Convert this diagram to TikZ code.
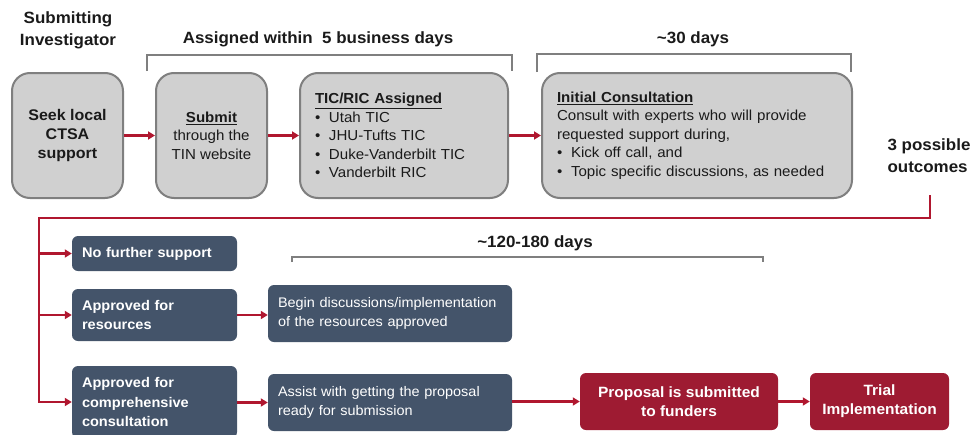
\documentclass[tikz,border=0pt]{standalone}
\usepackage{fontspec}
\setmainfont{Liberation Sans}[FakeStretch=1.04]
\usetikzlibrary{arrows.meta}
\definecolor{boxgray}{HTML}{D0D0D0}
\definecolor{bordergray}{HTML}{7F7F7F}
\definecolor{navy}{HTML}{44546A}
\definecolor{crimson}{HTML}{9E1B32}
\definecolor{arrowred}{HTML}{B0172F}
\definecolor{txt}{HTML}{1A1A1A}
\newcommand{\bul}{\makebox[14pt][l]{\textbullet}}
\begin{document}
\begin{tikzpicture}[x=1pt,y=-1pt,
  graybox/.style={draw=bordergray, line width=2pt, fill=boxgray, rounded corners=18pt, inner sep=0pt, text=txt},
  navybox/.style={fill=navy, rounded corners=6pt, text=white, inner ysep=0pt, inner xsep=10pt, align=left},
  redbox/.style={fill=crimson, rounded corners=6pt, text=white, inner sep=0pt, align=center, font=\bfseries\fontsize{14.9}{19}\selectfont},
  link/.style={draw=arrowred, line width=2.5pt, -{Triangle[length=7pt,width=8pt]}},
  bracket/.style={draw=bordergray, line width=2pt},
  heading/.style={font=\bfseries\fontsize{16.3}{22}\selectfont, text=txt, align=center}]
\useasboundingbox (0,0) rectangle (972,434);

% headings
\node[heading] (investigator) at (68,30) {Submitting\\Investigator};
\node[heading] (assigned) at (318,39) {Assigned within\ \ 5 business days};
\node[heading] (thirty) at (693,39) {\textasciitilde30 days};
\node[heading, align=left] (outcomes) at (929,156) {3 possible\\outcomes};
\node[heading] (longterm) at (535,243) {\textasciitilde120-180 days};

% brackets
\draw[bracket] (147,71) -- (147,55) -- (512,55) -- (512,71);
\draw[bracket] (537,72) -- (537,54) -- (851,54) -- (851,72);
\draw[bracket] (292,262) -- (292,257) -- (763,257) -- (763,262);

% top row
\node[graybox, minimum width=111pt, minimum height=125pt, align=center,
      font=\bfseries\fontsize{15.4}{19}\selectfont] (seek) at (67.5,135.5) {Seek local\\CTSA\\support};
\node[graybox, minimum width=111pt, minimum height=125pt, align=center,
      font=\fontsize{14.5}{18.5}\selectfont] (submit) at (211.5,135.5) {\textbf{\underline{Submit}}\\through the\\TIN website};
\node[graybox, minimum width=208pt, minimum height=125pt, text width=178pt, align=left,
      font=\fontsize{14.5}{18.5}\selectfont] (tic) at (404,135.5)
  {\textbf{\underline{TIC/RIC Assigned}}\\\bul Utah TIC\\\bul JHU-Tufts TIC\\\bul Duke-Vanderbilt TIC\\\bul Vanderbilt RIC};
\node[graybox, minimum width=310pt, minimum height=125pt, text width=280pt, align=left,
      font=\fontsize{14.5}{18.5}\selectfont] (init) at (697,135.5)
  {\textbf{\underline{Initial Consultation}}\\Consult with experts who will provide\\requested support during,\\\bul Kick off call, and\\\bul Topic specific discussions, as needed};

% outcome boxes
\node[navybox, minimum width=165pt, minimum height=35pt, text width=145pt,
      font=\bfseries\fontsize{14}{19}\selectfont] (nofurther) at (154.5,253.5) {No further support};
\node[navybox, minimum width=165pt, minimum height=52pt, text width=145pt,
      font=\bfseries\fontsize{14}{19}\selectfont] (appres) at (154.5,315) {Approved for\\resources};
\node[navybox, minimum width=165pt, minimum height=72pt, text width=145pt,
      font=\bfseries\fontsize{14}{19.5}\selectfont] (appcomp) at (154.5,402) {Approved for\\comprehensive\\consultation};
\node[navybox, minimum width=244pt, minimum height=57pt, text width=224pt,
      font=\fontsize{13.9}{19}\selectfont] (begin) at (390,313.5) {Begin discussions/implementation\\of the resources approved};
\node[navybox, minimum width=244pt, minimum height=57pt, text width=224pt,
      font=\fontsize{13.9}{19}\selectfont] (assist) at (390,402.5) {Assist with getting the proposal\\ready for submission};
\node[redbox, minimum width=198pt, minimum height=57pt] (proposal) at (679,401.5) {Proposal is submitted\\to funders};
\node[redbox, minimum width=139pt, minimum height=57pt] (trial) at (879.5,401.5) {Trial\\Implementation};

% connectors
\draw[link] (seek.east) -- (submit.west);
\draw[link] (submit.east) -- (tic.west);
\draw[link] (tic.east) -- (init.west);
\coordinate (out) at (930,195);
\coordinate (corner) at (39,218);
\draw[link, line join=miter] (out) |- (corner) |- (appcomp.west);
\draw[link] (corner |- nofurther.west) -- (nofurther.west);
\draw[link] (corner |- appres.west) -- (appres.west);
\draw[link] (appres.east) -- (appres.east -| begin.west);
\draw[link] (appcomp.east |- assist.west) -- (assist.west);
\draw[link] (assist.east |- proposal.west) -- (proposal.west);
\draw[link] (proposal.east) -- (trial.west);
\end{tikzpicture}
\end{document}
